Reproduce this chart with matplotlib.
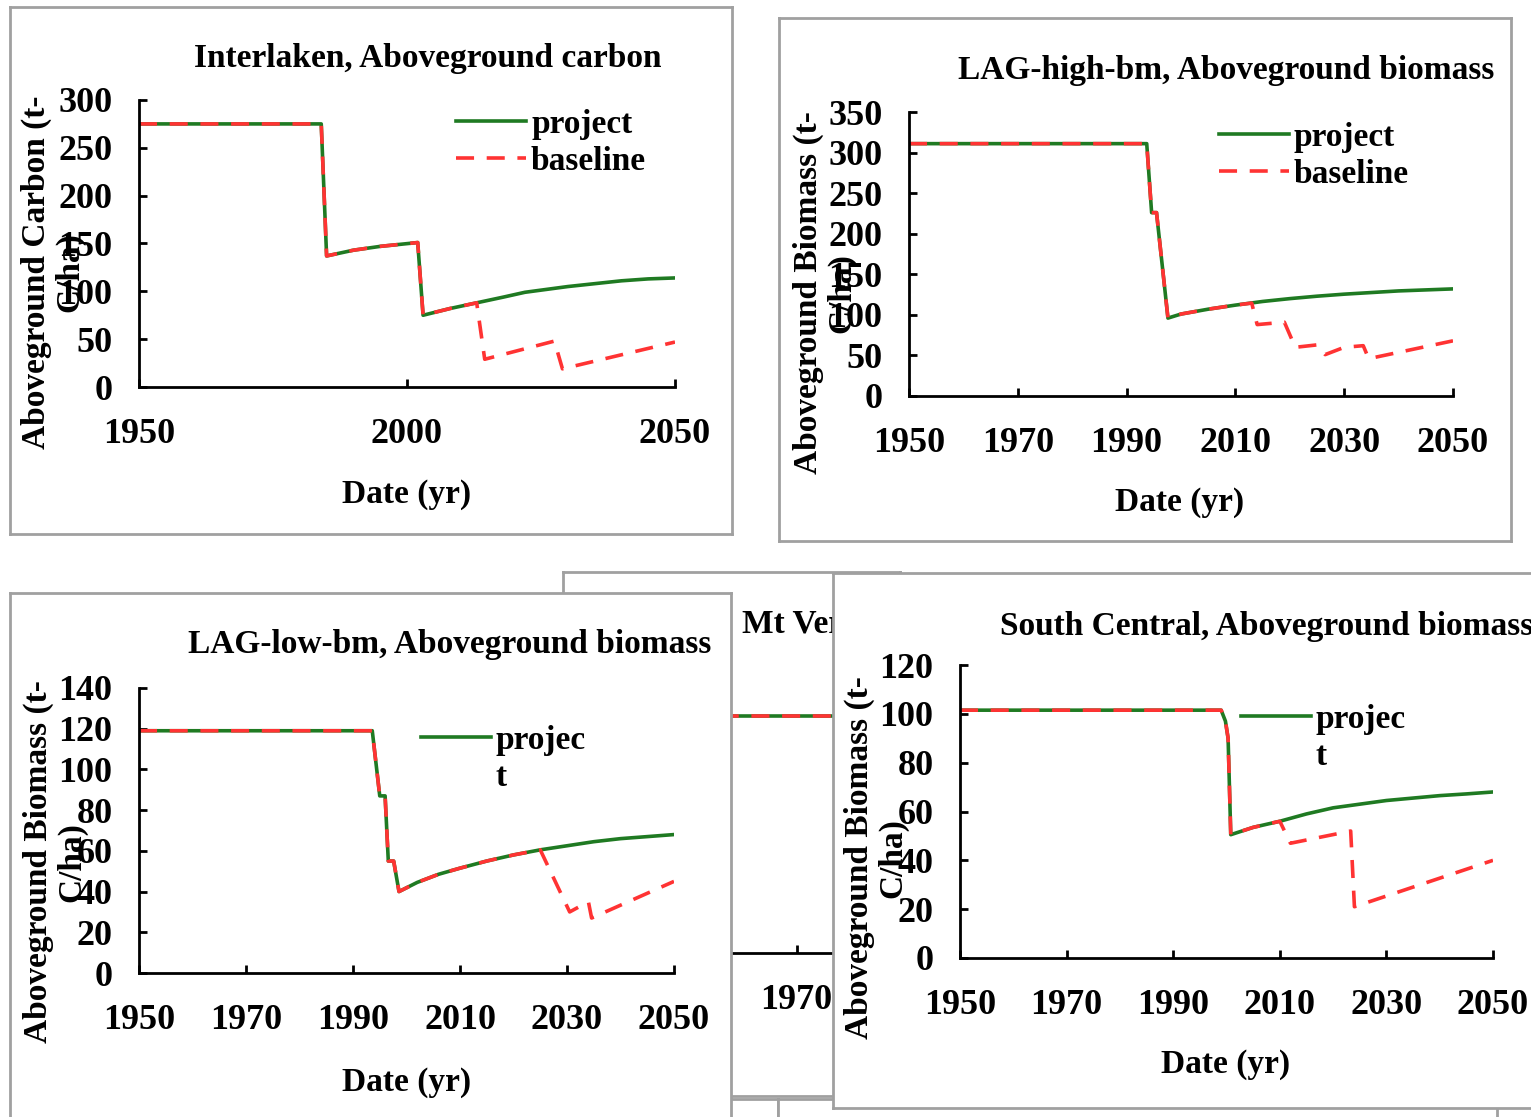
import matplotlib
matplotlib.use('Agg')
import matplotlib.pyplot as plt
from matplotlib.lines import Line2D

W, H = 1531, 1117
GREEN = '#1f7a22'
RED = '#ff3333'
BORDER = '#a0a0a0'
FONT = 'Liberation Serif'

# --- Interlaken, aboveground carbon (t-C/ha) ---
il_proj_yr = [1950, 1984, 1985, 1990, 1995, 2002, 2003, 2008, 2013, 2018, 2022, 2026, 2030, 2035, 2040, 2045, 2050]
il_proj = [275, 275, 137, 143, 147, 151, 75, 82, 88, 94, 99, 102, 105, 108, 111, 113, 114]
il_base_yr = [1950, 1984, 1985, 1990, 1995, 2002, 2003, 2008, 2013, 2014.5, 2027.5, 2029, 2050]
il_base = [275, 275, 137, 143, 147, 151, 75, 82, 88, 29, 48, 19, 47]

# --- LAG-high-bm, aboveground biomass ---
hi_proj_yr = [1950, 1993.7, 1994.6, 1995.5, 1997.6, 2000, 2005, 2010, 2015, 2020, 2025, 2030, 2040, 2050]
hi_proj = [311, 311, 226, 226, 96, 101, 107, 112, 116.5, 120, 123, 125.5, 129.5, 132]
hi_base_yr = [1950, 1993.7, 1994.6, 1995.5, 1997.6, 2000, 2005, 2010, 2013, 2014, 2019, 2021,
              2025, 2026.5, 2030, 2033.5, 2034.5, 2050]
hi_base = [311, 311, 226, 226, 96, 101, 107, 112, 114.5, 88, 91, 60, 63, 51, 60, 62, 46, 68]

# --- LAG-low-bm, aboveground biomass ---
lo_proj_yr = [1950, 1993.6, 1995, 1996, 1996.6, 1997.6, 1998.6, 2002, 2006, 2010, 2015, 2020,
              2025, 2030, 2035, 2040, 2045, 2050]
lo_proj = [119, 119, 87, 87, 55, 55, 40, 44.5, 48.5, 51.5, 55, 58, 60.5, 62.5, 64.5, 66, 67, 68]
lo_base_yr = [1950, 1993.6, 1995, 1996, 1996.6, 1997.6, 1998.6, 2002, 2006, 2010, 2015, 2020,
              2025, 2030.5, 2034, 2034.6, 2050]
lo_base = [119, 119, 87, 87, 55, 55, 40, 44.5, 48.5, 51.5, 55, 58, 60.5, 30, 35, 27, 45]

# --- Mt Vernon (mostly covered) ---
mv_yr = [1950, 1990]
mv_proj = [97, 97]
mv_base = [97, 97]

# --- South Central, aboveground biomass ---
sc_proj_yr = [1950, 1999, 1999.8, 2000.3, 2000.8, 2005, 2010, 2015, 2020, 2025, 2030, 2035, 2040, 2045, 2050]
sc_proj = [101.5, 101.5, 97, 90, 50.5, 53.5, 56, 59, 61.5, 63, 64.5, 65.5, 66.5, 67.2, 68]
sc_base_yr = [1950, 1999, 1999.8, 2000.3, 2000.8, 2005, 2010, 2012, 2023.3, 2024, 2050]
sc_base = [101.5, 101.5, 97, 90, 50.5, 53.5, 56, 47, 52, 21, 40]


fig = plt.figure(figsize=(W / 100, H / 100), dpi=100)
fig.patch.set_facecolor('white')


def rect(x0, y0, x1, y1):
    """Pixel box (top-left origin) -> figure fraction rect."""
    return [x0 / W, 1 - y1 / H, (x1 - x0) / W, (y1 - y0) / H]


def fx(x):
    return x / W


def fy(y):
    return 1 - y / H


def card(box, z):
    c = fig.add_axes(rect(*box))
    c.set_xticks([])
    c.set_yticks([])
    c.set_facecolor('white')
    for s in c.spines.values():
        s.set_color(BORDER)
        s.set_linewidth(2)
    c.set_zorder(z)
    return c


def txt(c, x, y, s, **kw):
    opts = dict(fontsize=24, fontweight='bold', family=FONT, transform=fig.transFigure,
                ha='center', va='center')
    opts.update(kw)
    c.text(fx(x), fy(y), s, **opts)


def panel(box, axbox, z, xticks, ymax, ystep, proj, base, title, ylab, title_pos,
          date_pos, ylab_pos, leg_pos=None, leg_labels=None, title_ha='center'):
    c = card(box, z)
    txt(c, *title_pos, title, ha=title_ha)
    txt(c, *date_pos, 'Date (yr)')
    txt(c, *ylab_pos, ylab, rotation=90, linespacing=1.08, multialignment='center')

    ax = fig.add_axes(rect(*axbox))
    ax.set_zorder(z + 1)
    ax.patch.set_alpha(0)
    proj_line, = ax.plot(proj[0], proj[1], color=GREEN, lw=2.6, solid_joinstyle='round')
    base_line, = ax.plot(base[0], base[1], color=RED, lw=2.6, dashes=(5, 3.5))
    ax.set_xlim(1950, 2050)
    ax.set_ylim(0, ymax)
    ax.set_xticks(xticks)
    ax.set_yticks(range(0, ymax + 1, ystep))
    for s in ['top', 'right']:
        ax.spines[s].set_visible(False)
    for s in ['left', 'bottom']:
        ax.spines[s].set_linewidth(2)
        ax.spines[s].set_color('black')
    ax.tick_params(direction='in', length=6, width=2, labelsize=26)
    ax.tick_params(axis='x', pad=22)
    ax.tick_params(axis='y', pad=19)
    for lab in ax.get_xticklabels() + ax.get_yticklabels():
        lab.set_family(FONT)
        lab.set_fontweight('bold')

    if leg_pos is not None:
        if len(leg_labels) == 2 and leg_labels[1] == 't':
            handles = [proj_line, Line2D([], [], color='none')]
        else:
            handles = [proj_line, base_line]
        ax.legend(handles, leg_labels, loc='upper left', bbox_to_anchor=(fx(leg_pos[0]), fy(leg_pos[1])),
                  bbox_transform=fig.transFigure, frameon=False, handlelength=2.1,
                  handletextpad=0.15, labelspacing=0.17, borderpad=0, borderaxespad=0,
                  prop={'family': FONT, 'weight': 'bold', 'size': 24})
    return ax


# boxes of the panels further down the page
card((563, 1099, 778, 1300), 0)
card((778, 1099, 1497, 1300), 0)

panel((10, 7, 732, 534), (139, 100, 675, 387), 1, [1950, 2000, 2050], 300, 50,
      (il_proj_yr, il_proj), (il_base_yr, il_base),
      'Interlaken, Aboveground carbon', 'Aboveground Carbon (t-\nC/ha)',
      (428, 58), (407, 494), (53, 272), (456, 109), ['project', 'baseline'])

panel((779, 18, 1511, 541), (909, 112, 1453, 396), 3, list(range(1950, 2051, 20)), 350, 50,
      (hi_proj_yr, hi_proj), (hi_base_yr, hi_base),
      'LAG-high-bm, Aboveground biomass', 'Aboveground Biomass (t-\nC/ha)',
      (1226, 70), (1180, 502), (825, 293), (1219, 122), ['project', 'baseline'])

panel((563, 572, 900, 1096), (690, 660, 1223, 953), 5, list(range(1950, 2051, 20)), 120, 20,
      (mv_yr, mv_proj), (mv_yr, mv_base),
      'Mt Vernon, Aboveground biomass', 'Aboveground Biomass (t-\nC/ha)',
      (742, 625), (956, 1065), (605, 858), title_ha='left')

panel((10, 593, 731, 1300), (139, 688, 674, 973), 7, list(range(1950, 2051, 20)), 140, 20,
      (lo_proj_yr, lo_proj), (lo_base_yr, lo_base),
      'LAG-low-bm, Aboveground biomass', 'Aboveground Biomass (t-\nC/ha)',
      (450, 645), (407, 1082), (55, 862), (421, 725), ['projec', 't'])

panel((833, 573, 1600, 1108), (960, 665, 1493, 958), 9, list(range(1950, 2051, 20)), 120, 20,
      (sc_proj_yr, sc_proj), (sc_base_yr, sc_base),
      'South Central, Aboveground biomass', 'Aboveground Biomass (t-\nC/ha)',
      (1000, 626), (1226, 1065), (876, 858), (1241, 704), ['projec', 't'], title_ha='left')

fig.savefig('out.png', dpi=100, facecolor='white')
plt.close(fig)
